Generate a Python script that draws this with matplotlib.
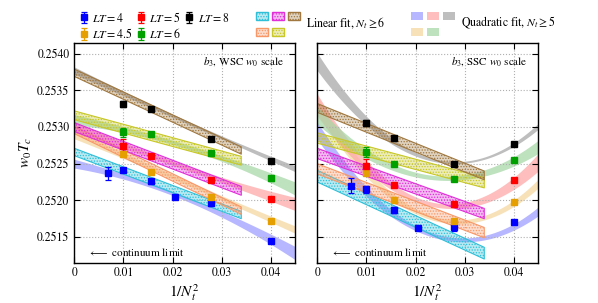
import numpy as np
import matplotlib
matplotlib.use("Agg")
import matplotlib.pyplot as plt
from matplotlib.patches import Patch

plt.rcParams['font.family'] = ['STIXGeneral', 'DejaVu Serif']
plt.rcParams['mathtext.fontset'] = 'stix'
plt.rcParams['hatch.linewidth'] = 0.6

# ---- data ----
lt_labels = ['4', '4.5', '5', '6', '8']
x_full = [1/144, 0.01, 1/64, 1/49, 1/36, 0.04]      # LT=4 has Nt=12,10,8,7,6,5
x_part = [0.01, 1/64, 1/36, 0.04]                   # others Nt=10,8,6,5

# WSC w0 scale
wsc_y = {
    '4':   [0.25237, 0.25241, 0.25226, 0.25205, 0.25196, 0.25144],
    '4.5': [0.25263, 0.25239, 0.25205, 0.25172],
    '5':   [0.25274, 0.25261, 0.25228, 0.25202],
    '6':   [0.25293, 0.25290, 0.25264, 0.25230],
    '8':   [0.25331, 0.25325, 0.25284, 0.25254],
}
wsc_err = {
    '4':   [0.00009, 0.00003, 0.00003, 0.00002, 0.00004, 0.00002],
    '4.5': [0.00004, 0.00002, 0.00002, 0.00001],
    '5':   [0.00010, 0.00002, 0.00003, 0.00003],
    '6':   [0.00006, 0.00002, 0.00003, 0.00003],
    '8':   [0.00004, 0.00002, 0.00001, 0.00001],
}
# SSC w0 scale
ssc_y = {
    '4':   [0.25220, 0.25215, 0.25187, 0.25162, 0.25163, 0.25170],
    '4.5': [0.25238, 0.25200, 0.25172, 0.25198],
    '5':   [0.25247, 0.25221, 0.25195, 0.25228],
    '6':   [0.25266, 0.25250, 0.25229, 0.25255],
    '8':   [0.25305, 0.25285, 0.25250, 0.25277],
}
ssc_err = {
    '4':   [0.00010, 0.00005, 0.00004, 0.00002, 0.00005, 0.00002],
    '4.5': [0.00004, 0.00002, 0.00002, 0.00001],
    '5':   [0.00009, 0.00002, 0.00003, 0.00003],
    '6':   [0.00007, 0.00002, 0.00002, 0.00003],
    '8':   [0.00004, 0.00002, 0.00001, 0.00001],
}

# linear fit bands (Nt>=6): value at 1/Nt^2=0, value at 0.034, half width
lin_end = 0.034
wsc_lin = {
    '4':   (0.25266, 0.25180, 0.00005),
    '4.5': (0.25296, 0.25186, 0.00005),
    '5':   (0.25300, 0.25213, 0.00006),
    '6':   (0.25316, 0.25254, 0.00006),
    '8':   (0.25374, 0.25268, 0.00005),
}
ssc_lin = {
    '4':   (0.25233, 0.25128, 0.00008),
    '4.5': (0.25243, 0.25156, 0.00007),
    '5':   (0.25264, 0.25182, 0.00007),
    '6':   (0.25285, 0.25224, 0.00007),
    '8':   (0.25326, 0.25234, 0.00006),
}

# quadratic fit bands (Nt>=5): centre at x = 0, 0.0225, 0.045 and half widths there
quad_nodes = [0.0, 0.0225, 0.045]
wsc_quad = {
    '4':   ([0.25250, 0.25203, 0.25128], [0.00006, 0.00003, 0.00009]),
    '4.5': ([0.25290, 0.25225, 0.25160], [0.00006, 0.00003, 0.00005]),
    '5':   ([0.25300, 0.25245, 0.25195], [0.00008, 0.00003, 0.00009]),
    '6':   ([0.25310, 0.25274, 0.25216], [0.00007, 0.00003, 0.00009]),
    '8':   ([0.25377, 0.25308, 0.25243], [0.00005, 0.00002, 0.00004]),
}
ssc_quad = {
    '4':   ([0.25295, 0.25155, 0.25185], [0.00012, 0.00003, 0.00006]),
    '4.5': ([0.25330, 0.25178, 0.25223], [0.00012, 0.00003, 0.00006]),
    '5':   ([0.25330, 0.25196, 0.25252], [0.00015, 0.00003, 0.00012]),
    '6':   ([0.25316, 0.25232, 0.25273], [0.00012, 0.00003, 0.00009]),
    '8':   ([0.25389, 0.25257, 0.25301], [0.00012, 0.00002, 0.00004]),
}

pt_col = {'4': '#0000ff', '4.5': '#e69f00', '5': '#ff0000', '6': '#00a000', '8': '#000000'}
lin_col = {'4': '#2fc0d8', '4.5': '#f89868', '5': '#e030d8', '6': '#c8c828', '8': '#a07840'}
quad_col = {'4': '#9f9fff', '4.5': '#f5d7a0', '5': '#ffa8a8', '6': '#a8d8a8', '8': '#a8a8a8'}


def draw_panel(ax, ydat, edat, lin, quad, title):
    xs = np.linspace(0, 0.045, 200)
    for k in lt_labels:
        c = np.polyfit(quad_nodes, quad[k][0], 2)
        w = np.polyfit(quad_nodes, quad[k][1], 2)
        mid = np.polyval(c, xs)
        hw = np.polyval(w, xs)
        ax.fill_between(xs, mid - hw, mid + hw, color=quad_col[k], alpha=0.75,
                        lw=0, zorder=1)
    xl = np.linspace(0, lin_end, 50)
    for k in lt_labels:
        y0, y1, hw = lin[k]
        mid = y0 + (y1 - y0) * xl / lin_end
        ax.fill_between(xl, mid - hw, mid + hw, facecolor=lin_col[k] + '55',
                        edgecolor=lin_col[k], hatch='......', lw=0.8, zorder=2)
    handles = []
    for k in lt_labels:
        xx = x_full if k == '4' else x_part
        h = ax.errorbar(xx, ydat[k], yerr=edat[k], fmt='s', color=pt_col[k], ms=4.5,
                        capsize=2, elinewidth=0.9, capthick=0.9, zorder=4)
        handles.append(h)
    ax.set_xlim(0, 0.045)
    ax.set_ylim(0.25115, 0.25415)
    ax.set_xticks([0, 0.01, 0.02, 0.03, 0.04])
    ax.set_xticklabels(['0', '0.01', '0.02', '0.03', '0.04'])
    ax.set_yticks([0.2515, 0.2520, 0.2525, 0.2530, 0.2535, 0.2540])
    ax.grid(True, ls=':', color='#b0b0b0', lw=0.8)
    ax.tick_params(direction='in', top=True, right=True, labelsize=8.5, length=4)
    ax.set_xlabel('$1/N_t^2$', fontsize=11, labelpad=2)
    ax.text(0.95, 0.914, title, transform=ax.transAxes, ha='right', va='center',
            fontsize=8)
    ax.text(0.062, 0.048, r'$\longleftarrow$ continuum limit', transform=ax.transAxes,
            ha='left', va='center', fontsize=8)
    for s in ax.spines.values():
        s.set_linewidth(1.0)
    return handles


fig = plt.figure(figsize=(5.98, 3.03), dpi=100)
ax1 = fig.add_axes([74.3/598, 1 - 262.7/303, 221/598, 220/303])
ax2 = fig.add_axes([317.3/598, 1 - 262.7/303, 221/598, 220/303], sharey=ax1)

pt_handles = draw_panel(ax1, wsc_y, wsc_err, wsc_lin, wsc_quad, r'$b_3$, WSC $w_0$ scale')
draw_panel(ax2, ssc_y, ssc_err, ssc_lin, ssc_quad, r'$b_3$, SSC $w_0$ scale')
ax1.set_yticklabels(['0.2515', '0.2520', '0.2525', '0.2530', '0.2535', '0.2540'])
ax2.tick_params(labelleft=False)
ax1.set_ylabel('$w_0T_c$', fontsize=11, labelpad=2)

# legends
fig.legend(pt_handles, ['$LT=%s$' % k for k in lt_labels], ncol=3,
           loc='upper left', bbox_to_anchor=(0.113, 1.0), frameon=False,
           fontsize=8.5, handlelength=0.9, handletextpad=0.3, columnspacing=0.2,
           labelspacing=0.2)

lin_handles = [Patch(facecolor=lin_col[k] + '55', edgecolor=lin_col[k], hatch='......')
               for k in lt_labels]
fig.legend(lin_handles, [''] * 5, ncol=3, loc='upper left', bbox_to_anchor=(0.4096, 1.0),
           frameon=False, fontsize=9, handlelength=0.95, handleheight=0.6,
           handletextpad=0.0, columnspacing=0.32, labelspacing=0.4)
fig.text(306/598, 1 - 23/303, r'Linear fit, $N_t \geq 6$', fontsize=8.5,
         ha='left', va='center')

quad_handles = [Patch(facecolor=quad_col[k], alpha=0.75, lw=0) for k in lt_labels]
fig.legend(quad_handles, [''] * 5, ncol=3, loc='upper left', bbox_to_anchor=(0.6686, 1.0),
           frameon=False, fontsize=9, handlelength=0.95, handleheight=0.6,
           handletextpad=0.0, columnspacing=0.32, labelspacing=0.4)
fig.text(461/598, 1 - 23/303, r'Quadratic fit, $N_t \geq 5$', fontsize=8.5,
         ha='left', va='center')

fig.savefig('out.png', dpi=100)
